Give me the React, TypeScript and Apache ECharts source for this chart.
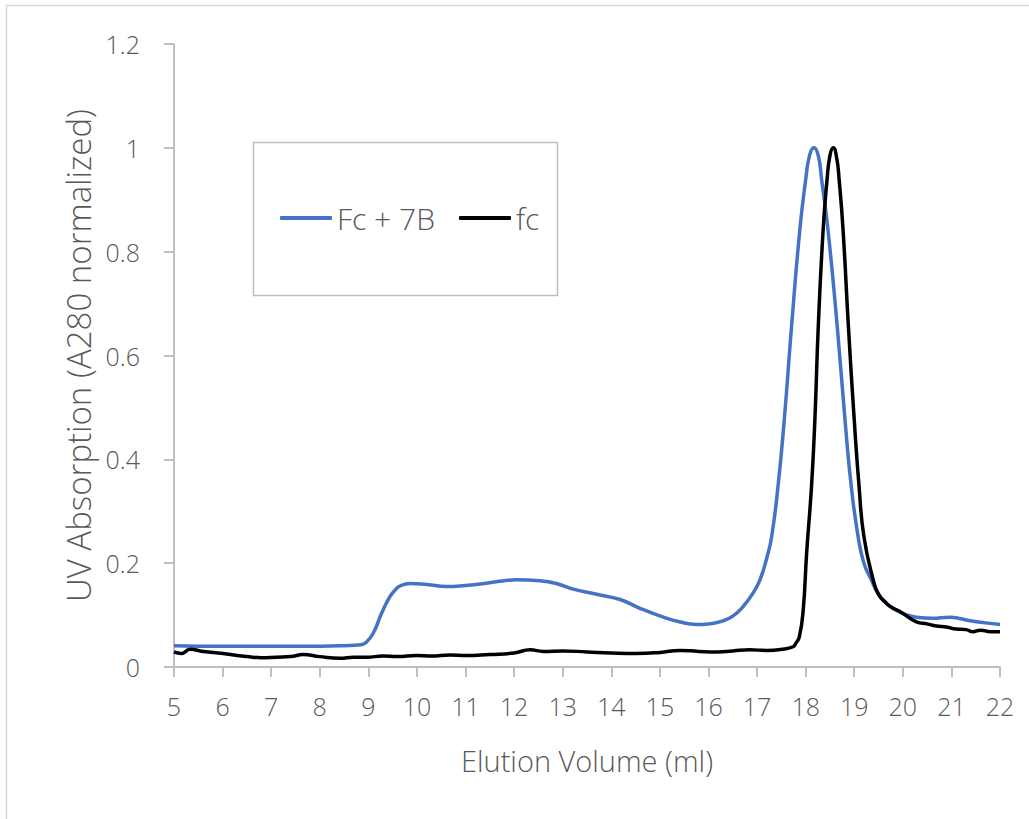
import React, { useEffect, useRef } from "react";
import * as echarts from "echarts";

const seriesNames = ["Fc + 7B", "fc"];

const blueVolume = [
  5.0, 6.0, 7.0, 8.0, 8.5, 8.85, 8.95, 9.1, 9.27, 9.44, 9.55, 9.65, 9.86, 10.2, 10.61, 11.0, 11.3, 11.7,
  12.05, 12.53, 12.9, 13.22, 13.7, 14.18, 14.59, 15.07, 15.4, 15.75, 16.0, 16.3, 16.5, 16.71, 16.9, 17.06,
  17.2, 17.3, 17.43, 17.56, 17.71, 17.88, 18.0, 18.08, 18.17, 18.26, 18.33, 18.46, 18.65, 18.81, 18.94,
  19.08, 19.2, 19.35, 19.5, 19.66, 19.8, 20.0, 20.28, 20.6, 20.97, 21.2, 21.38, 21.7, 22.0,
];
const blueAbs = [
  0.041, 0.04, 0.04, 0.04, 0.041, 0.043, 0.047, 0.065, 0.103, 0.135, 0.148, 0.156, 0.161, 0.159, 0.155,
  0.157, 0.16, 0.165, 0.168, 0.166, 0.16, 0.15, 0.14, 0.13, 0.113, 0.096, 0.087, 0.082, 0.083, 0.089, 0.098,
  0.116, 0.14, 0.168, 0.21, 0.251, 0.347, 0.476, 0.656, 0.842, 0.938, 0.985, 1.0, 0.985, 0.938, 0.842, 0.656,
  0.476, 0.347, 0.251, 0.2, 0.168, 0.14, 0.123, 0.113, 0.103, 0.096, 0.094, 0.096, 0.093, 0.089, 0.085, 0.082,
];

const blackVolume = [
  5.0, 5.15, 5.33, 5.6, 6.01, 6.3, 6.5, 6.8, 7.11, 7.4, 7.66, 8.0, 8.42, 8.7, 8.96, 9.3, 9.6, 9.99, 10.3,
  10.68, 11.0, 11.5, 12.0, 12.33, 12.6, 13.0, 13.5, 14.0, 14.5, 15.0, 15.41, 15.8, 16.2, 16.5, 16.85, 17.2,
  17.5, 17.74, 17.8, 17.87, 17.95, 18.02, 18.12, 18.19, 18.26, 18.36, 18.44, 18.5, 18.57, 18.64, 18.69,
  18.77, 18.88, 19.0, 19.1, 19.2, 19.39, 19.5, 19.66, 19.8, 19.94, 20.28, 20.5, 20.69, 20.9, 21.1, 21.3,
  21.44, 21.6, 21.8, 22.0,
];
const blackAbs = [
  0.029, 0.026, 0.034, 0.03, 0.026, 0.022, 0.02, 0.018, 0.019, 0.02, 0.024, 0.02, 0.017, 0.019, 0.019,
  0.021, 0.02, 0.022, 0.021, 0.023, 0.022, 0.024, 0.027, 0.033, 0.03, 0.031, 0.029, 0.027, 0.026, 0.028,
  0.032, 0.03, 0.029, 0.031, 0.033, 0.032, 0.034, 0.039, 0.046, 0.058, 0.11, 0.219, 0.347, 0.476, 0.656,
  0.842, 0.938, 0.985, 1.0, 0.98, 0.938, 0.842, 0.656, 0.476, 0.347, 0.251, 0.168, 0.14, 0.123, 0.113,
  0.107, 0.087, 0.083, 0.079, 0.077, 0.073, 0.072, 0.068, 0.071, 0.068, 0.068,
];

const xTitle = "Elution Volume (ml)";
const yTitle = "UV Absorption (A280 normalized)";

const FONT = "'Open Sans', 'Noto Sans', sans-serif";
const TXT = "#595959";
const AX = "#bfbfbf";

export default function App() {
  const ref = useRef<HTMLDivElement>(null);
  useEffect(() => {
    if (!ref.current) return;
    const chart = echarts.init(ref.current, null, { renderer: "svg" });
    const pairs = (xs: number[], ys: number[]) => xs.map((x, i) => [x, ys[i]]);
    chart.setOption({
      animation: false,
      backgroundColor: "#ffffff",
      grid: { left: 174, right: 29, top: 44, bottom: 152 },
      graphic: [
        {
          type: "rect",
          shape: { x: 6.5, y: 5.5, width: 1100, height: 1000 },
          style: { fill: "none", stroke: "#d9d9d9", lineWidth: 1.5 },
          silent: true,
        },
        {
          type: "rect",
          shape: { x: 253.5, y: 142.5, width: 304, height: 153 },
          style: { fill: "#ffffff", stroke: "#bfbfbf", lineWidth: 1.5 },
          silent: true,
          z: 5,
        },
      ],
      legend: {
        left: 280,
        top: 203,
        z: 10,
        itemWidth: 52,
        itemHeight: 4,
        itemGap: 24,
        icon: "roundRect",
        padding: 0,
        textStyle: { fontFamily: FONT, fontWeight: 300, fontSize: 30, color: TXT, padding: [0, 0, 0, 0] },
        data: seriesNames,
      },
      xAxis: {
        type: "value",
        min: 5,
        max: 22,
        interval: 1,
        name: xTitle,
        nameLocation: "middle",
        nameGap: 79,
        nameTextStyle: { fontFamily: FONT, fontWeight: 300, fontSize: 29, color: TXT },
        axisLine: { lineStyle: { color: AX, width: 2 } },
        axisTick: { show: true, length: 10, lineStyle: { color: AX, width: 2 } },
        axisLabel: { fontFamily: FONT, fontWeight: 300, fontSize: 25, color: TXT, margin: 26 },
        splitLine: { show: false },
      },
      yAxis: {
        type: "value",
        min: 0,
        max: 1.2,
        interval: 0.2,
        name: yTitle,
        nameLocation: "middle",
        nameGap: 64,
        nameTextStyle: { fontFamily: FONT, fontWeight: 300, fontSize: 33, color: TXT },
        axisLine: { show: true, lineStyle: { color: AX, width: 2 } },
        axisTick: { show: true, length: 10, lineStyle: { color: AX, width: 2 } },
        axisLabel: { fontFamily: FONT, fontWeight: 300, fontSize: 25, color: TXT, margin: 34 },
        splitLine: { show: false },
      },
      series: [
        {
          name: seriesNames[0],
          type: "line",
          data: pairs(blueVolume, blueAbs),
          showSymbol: false,
          symbol: "none",
          smooth: 0.5,
          lineStyle: { color: "#4472c4", width: 3.5 },
          itemStyle: { color: "#4472c4" },
          z: 2,
        },
        {
          name: seriesNames[1],
          type: "line",
          data: pairs(blackVolume, blackAbs),
          showSymbol: false,
          symbol: "none",
          smooth: 0.5,
          lineStyle: { color: "#000000", width: 3.5 },
          itemStyle: { color: "#000000" },
          z: 3,
        },
      ],
    });
    return () => chart.dispose();
  }, []);
  return (
    <div
      ref={ref}
      style={{ position: "fixed", left: 0, top: 0, width: 1029, height: 819, background: "#fff" }}
    />
  );
}
